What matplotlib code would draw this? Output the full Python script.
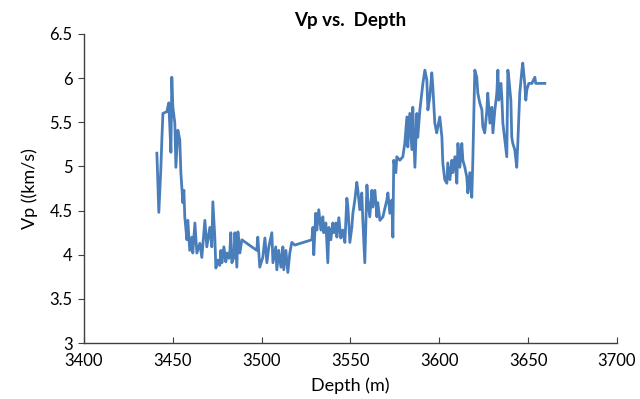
import matplotlib
matplotlib.use("Agg")
import matplotlib.pyplot as plt
from matplotlib.ticker import FuncFormatter

# depth (m) and P-wave velocity (km/s)
depth = [
    3441.1, 3442.2, 3443.3, 3443.9, 3444.5, 3446.7, 3447.8, 3449.0, 3449.5, 3450.1,
    3451.2, 3451.8, 3452.9, 3454.0, 3454.6, 3455.7, 3456.3, 3456.8, 3458.0, 3458.5,
    3459.6, 3460.8, 3461.3, 3462.5, 3463.6, 3465.3, 3466.4, 3468.1, 3469.2, 3469.8,
    3470.9, 3472.0, 3472.6, 3473.7, 3474.3, 3475.4, 3476.5, 3477.1, 3477.7, 3478.8,
    3479.9, 3480.5, 3481.6, 3482.2, 3482.7, 3483.3, 3484.4, 3485.0, 3486.1, 3486.7,
    3487.8, 3488.9, 3497.3, 3497.9, 3499.0, 3500.7,
    3501.9, 3503.0, 3504.1, 3505.8, 3506.4, 3508.0, 3508.6, 3509.7, 3510.9, 3512.0,
    3512.5, 3513.7, 3514.8, 3515.9, 3517.0, 3518.7, 3528.3, 3528.9, 3529.4, 3530.5,
    3531.1, 3532.2, 3533.4, 3534.5, 3535.0, 3536.2, 3537.3, 3537.9, 3539.0, 3540.1,
    3540.7, 3541.8, 3542.4, 3543.5, 3544.6, 3545.7, 3546.9, 3548.0, 3548.6, 3549.7,
    3550.8, 3551.4, 3552.5, 3553.6, 3554.2, 3555.3, 3556.4, 3557.0, 3558.1, 3559.3,
    3559.8, 3560.9, 3562.1, 3562.6, 3563.8, 3564.9, 3565.4, 3566.6, 3568.3, 3570.5,
    3571.1, 3572.2, 3573.3, 3573.9, 3574.4, 3575.6, 3576.1, 3577.8, 3579.5, 3580.6,
    3581.8, 3582.3, 3583.4, 3584.6, 3585.1, 3586.3, 3587.4, 3587.9, 3589.1, 3590.2,
    3590.8, 3591.9, 3593.0, 3593.6, 3594.7, 3595.8, 3596.4, 3597.5, 3598.6, 3599.2,
    3600.3, 3601.5, 3602.0, 3603.1, 3604.3, 3604.8, 3606.0, 3607.1, 3607.6, 3608.8,
    3609.9, 3610.5, 3611.6, 3612.7, 3613.3, 3614.4, 3615.5, 3616.1, 3617.2, 3618.3,
    3618.9, 3620.0, 3621.1, 3621.7, 3622.8, 3624.0, 3624.5, 3625.6, 3626.8, 3627.3,
    3628.5, 3629.6, 3630.2, 3631.3, 3632.4, 3633.0, 3633.5, 3634.7, 3635.2, 3635.8,
    3636.9, 3638.0, 3638.6, 3639.1, 3640.3, 3640.8, 3641.4, 3642.5, 3643.6, 3644.2,
    3645.3, 3646.5, 3647.0, 3648.1, 3648.7, 3649.3, 3650.4, 3652.1, 3653.8, 3654.3,
    3659.4,
]
vp = [
    5.15, 4.48, 4.96, 5.30, 5.60, 5.62, 5.72, 5.16, 6.01, 5.67,
    5.49, 4.99, 5.41, 5.30, 4.93, 4.59, 4.73, 4.43, 4.17, 4.39,
    4.05, 4.20, 4.02, 4.36, 4.02, 4.13, 3.97, 4.39, 4.09, 4.17,
    4.31, 4.09, 4.60, 4.20, 3.85, 3.94, 3.88, 4.05, 3.91, 4.09,
    3.92, 4.02, 3.96, 4.05, 4.25, 3.91, 3.97, 4.25, 3.86, 4.26,
    4.02, 4.17, 4.05, 4.20, 3.86, 3.97,
    4.19, 3.91, 4.09, 4.25, 3.91, 4.09, 3.83, 4.05, 3.86, 4.09,
    3.83, 4.05, 3.80, 4.02, 4.14, 4.11, 4.17, 4.31, 4.00, 4.47,
    4.28, 4.51, 4.28, 4.43, 4.25, 4.36, 3.91, 4.31, 4.17, 4.36,
    4.25, 4.36, 4.20, 4.42, 4.19, 4.28, 4.14, 4.64, 4.54, 4.14,
    4.31, 4.47, 4.62, 4.82, 4.73, 4.51, 4.70, 4.39, 3.91, 4.79,
    4.62, 4.43, 4.73, 4.54, 4.73, 4.43, 4.59, 4.39, 4.43, 4.62,
    4.70, 4.47, 4.62, 4.20, 5.07, 4.93, 5.11, 5.07, 5.11, 5.26,
    5.56, 5.22, 5.60, 5.19, 5.67, 4.99, 5.60, 5.33, 5.64, 5.83,
    5.94, 6.09, 5.98, 5.64, 5.79, 6.06, 5.90, 5.49, 5.38, 5.45,
    5.56, 5.33, 5.04, 4.85, 4.81, 5.04, 4.85, 5.07, 4.93, 5.11,
    4.81, 5.26, 4.99, 5.26, 5.07, 4.99, 4.88, 4.70, 4.93, 4.65,
    5.07, 6.09, 6.01, 5.83, 5.72, 5.64, 5.45, 5.38, 5.64, 5.83,
    5.49, 5.67, 5.38, 5.64, 5.83, 6.09, 5.75, 5.94, 5.79, 5.49,
    5.30, 5.11, 6.09, 6.01, 5.75, 5.33, 5.26, 5.19, 4.99, 5.26,
    5.83, 6.09, 6.17, 5.94, 5.75, 5.87, 5.94, 5.94, 6.01, 5.94,
    5.94,
]

x_ticks = [3400, 3450, 3500, 3550, 3600, 3650, 3700]
y_ticks = [3, 3.5, 4, 4.5, 5, 5.5, 6, 6.5]

plt.rcParams['font.family'] = ['Lato', 'DejaVu Sans']

fig = plt.figure(figsize=(6.4, 3.99), dpi=100)
ax = fig.add_axes([0.131, 0.140, 0.833, 0.775])

ax.plot(depth, vp, color='#4a7ebb', linewidth=2.0)

ax.set_xlim(3400, 3700)
ax.set_ylim(3, 6.5)
ax.set_xticks(x_ticks)
ax.set_yticks(y_ticks)
ax.yaxis.set_major_formatter(FuncFormatter(lambda v, p: '%g' % v))

# only left and bottom axis lines, like the excel chart
for side in ['top', 'right']:
    ax.spines[side].set_visible(False)
for side in ['left', 'bottom']:
    ax.spines[side].set_color('#404040')
    ax.spines[side].set_linewidth(1.0)

ax.tick_params(axis='x', direction='in', length=4, color='#404040',
               labelsize=12, pad=7)
ax.tick_params(axis='y', direction='out', length=4, color='#404040',
               labelsize=12, pad=4)

ax.set_title('Vp vs.  Depth', fontsize=13.5, fontweight='bold', pad=6)
ax.set_xlabel('Depth (m)', fontsize=13, labelpad=6)
ax.set_ylabel('Vp ((km/s)', fontsize=13, labelpad=8)

fig.savefig('out.png', dpi=100)
